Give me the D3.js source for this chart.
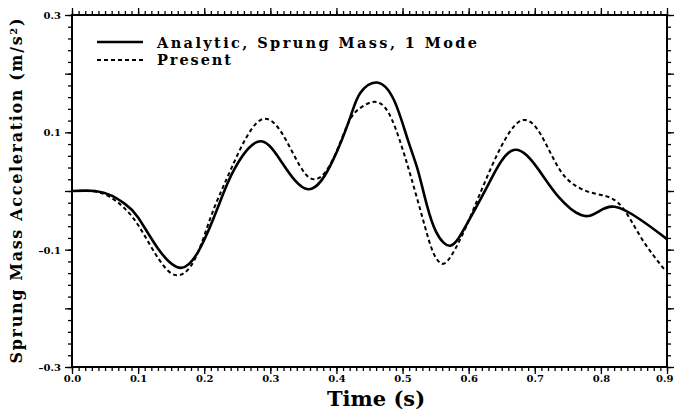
<!DOCTYPE html>
<html lang="en">
<head>
  <meta charset="utf-8">
  <script src="https://d3js.org/d3.v7.min.js"></script>
  <style>
    body { margin: 0; background: #fff; }
  </style>
</head>
<body>
  <div id="my_dataviz"></div>
  <script>

    // values
    const timeAnalytic = [0.00, 0.035, 0.06, 0.08, 0.10, 0.13, 0.165, 0.195, 0.221, 0.245, 0.281, 0.315, 0.357,
      0.395, 0.421, 0.436, 0.461, 0.487, 0.508, 0.523, 0.537, 0.550, 0.562, 0.573, 0.585, 0.601, 0.631, 0.668, 0.706,
      0.736, 0.770, 0.795, 0.821, 0.860, 0.900];
    const accAnalytic = [0, 0, -0.008, -0.022, -0.045, -0.098, -0.131, -0.095, -0.027, 0.036, 0.084, 0.053, 0.003,
      0.053, 0.126, 0.167, 0.185, 0.155, 0.087, 0.036, -0.025, -0.068, -0.088, -0.093, -0.080, -0.049, 0.014, 0.070, 0.036,
      -0.010, -0.041, -0.036, -0.027, -0.049, -0.082];

    const timePresent = [0.00, 0.035, 0.06, 0.08, 0.10, 0.125, 0.155, 0.185, 0.21, 0.24, 0.285, 0.326, 0.36, 0.392, 0.418,
      0.438, 0.458, 0.479, 0.499, 0.514, 0.530, 0.543, 0.553, 0.562, 0.575, 0.596, 0.626, 0.676, 0.716, 0.746, 0.786,
      0.826, 0.86, 0.897];
    const accPresent = [0, -0.001, -0.012, -0.030, -0.058, -0.105, -0.143, -0.118, -0.044, 0.036, 0.121, 0.082, 0.022, 0.048, 0.116,
      0.143, 0.152, 0.133, 0.075, 0.019, -0.045, -0.095, -0.118, -0.124, -0.108, -0.061, 0.019, 0.118, 0.082, 0.024, -0.003,
      -0.020, -0.078, -0.135];

    const xTickLabels = [0.0, 0.1, 0.2, 0.3, 0.4, 0.5, 0.6, 0.7, 0.8, 0.9];
    const yTickLabels = [0.3, 0.1, -0.1, -0.3];
    const seriesNames = ["Analytic, Sprung Mass, 1 Mode", "Present"];

    // set the dimensions and margins of the graph
    const margin = {top: 15, right: 7, bottom: 46, left: 72},
        width = 674 - margin.left - margin.right,
        height = 413 - margin.top - margin.bottom;

    const svg = d3.select("#my_dataviz")
      .append("svg")
        .attr("width", 674)
        .attr("height", 413)
      .append("g")
        .attr("transform", `translate(${margin.left},${margin.top})`);

    const x = d3.scaleLinear().domain([0, 0.9]).range([0, width]);
    const y = d3.scaleLinear().domain([-0.3, 0.3]).range([height, 0]);

    const xMinor = d3.range(0, 91).map(i => i / 100);
    const xMajor = d3.range(0, 10).map(i => i / 10);
    const yMinor = d3.range(-15, 16).map(i => i / 50);
    const yMajor = d3.range(-3, 4).map(i => i / 10);

    const fmt = d => d < 0 ? "\u2013" + Math.abs(d).toFixed(1) : d.toFixed(1);
    const tickFont = "DejaVu Serif";

    // minor ticks on all four sides
    svg.append("g").attr("transform", `translate(0,${height})`)
      .call(d3.axisBottom(x).tickValues(xMinor).tickSize(4).tickFormat(""));
    svg.append("g")
      .call(d3.axisTop(x).tickValues(xMinor).tickSize(4).tickFormat(""));
    svg.append("g")
      .call(d3.axisLeft(y).tickValues(yMinor).tickSize(4).tickFormat(""));
    svg.append("g").attr("transform", `translate(${width},0)`)
      .call(d3.axisRight(y).tickValues(yMinor).tickSize(4).tickFormat(""));

    // major ticks
    svg.append("g").attr("class", "xaxis").attr("transform", `translate(0,${height})`)
      .call(d3.axisBottom(x).tickValues(xMajor).tickSize(7).tickPadding(1)
        .tickFormat(d => xTickLabels.includes(d) ? fmt(d) : ""));
    svg.append("g")
      .call(d3.axisTop(x).tickValues(xMajor).tickSize(7).tickFormat(""));
    svg.append("g").attr("class", "yaxis")
      .call(d3.axisLeft(y).tickValues(yMajor).tickSize(7).tickPadding(4)
        .tickFormat(d => yTickLabels.some(v => Math.abs(v - d) < 1e-9) ? fmt(d) : ""));
    svg.append("g").attr("transform", `translate(${width},0)`)
      .call(d3.axisRight(y).tickValues(yMajor).tickSize(7).tickFormat(""));

    svg.selectAll(".domain").remove();
    svg.selectAll(".tick line").attr("stroke", "#000").attr("stroke-width", 1.3);
    svg.selectAll(".tick text")
      .style("font-family", tickFont)
      .style("font-weight", "bold")
      .style("font-size", "10px")
      .attr("fill", "#000");
    svg.selectAll(".yaxis .tick text").attr("dy", "0.35em");
    // keep the last label inside the page
    svg.selectAll(".xaxis .tick text").filter(d => d === 0.9)
      .attr("text-anchor", "end").attr("x", 6);

    // frame
    svg.append("rect")
      .attr("x", 0).attr("y", 0)
      .attr("width", width).attr("height", height)
      .attr("fill", "none")
      .attr("stroke", "#000")
      .attr("stroke-width", 2);

    const line = d3.line()
      .x(d => x(d[0]))
      .y(d => y(d[1]))
      .curve(d3.curveNatural);

    svg.append("path")
      .datum(timePresent.map((t, i) => [t, accPresent[i]]))
      .attr("fill", "none")
      .attr("stroke", "#000")
      .attr("stroke-width", 2)
      .attr("stroke-dasharray", "4,3")
      .attr("d", line);

    svg.append("path")
      .datum(timeAnalytic.map((t, i) => [t, accAnalytic[i]]))
      .attr("fill", "none")
      .attr("stroke", "#000")
      .attr("stroke-width", 2.6)
      .attr("d", line);

    // legend
    const legend = svg.append("g").attr("transform", "translate(25,27)");
    legend.append("line")
      .attr("x1", 0).attr("x2", 46).attr("y1", 0).attr("y2", 0)
      .attr("stroke", "#000").attr("stroke-width", 2.6);
    legend.append("line")
      .attr("x1", 0).attr("x2", 46).attr("y1", 18).attr("y2", 18)
      .attr("stroke", "#000").attr("stroke-width", 2).attr("stroke-dasharray", "4,3");
    legend.append("text")
      .attr("x", 60).attr("y", 6)
      .attr("textLength", 320)
      .style("font-family", tickFont).style("font-weight", "bold").style("font-size", "14.5px")
      .text(seriesNames[0]);
    legend.append("text")
      .attr("x", 60).attr("y", 23)
      .attr("textLength", 74)
      .style("font-family", tickFont).style("font-weight", "bold").style("font-size", "14.5px")
      .text(seriesNames[1]);

    // X axis label
    svg.append("text")
      .attr("x", 376 - margin.left)
      .attr("y", 406 - margin.top)
      .attr("text-anchor", "middle")
      .style("font-family", tickFont)
      .style("font-weight", "bold")
      .style("font-size", "21px")
      .text("Time (s)");

    // Y axis label
    const ylab = svg.append("text")
      .attr("transform", "rotate(-90)")
      .attr("x", -(191 - margin.top))
      .attr("y", 22 - margin.left)
      .attr("text-anchor", "middle")
      .attr("textLength", 345)
      .style("font-family", tickFont)
      .style("font-weight", "bold")
      .style("font-size", "16px");
    ylab.append("tspan").text("Sprung Mass Acceleration (m/s");
    ylab.append("tspan").attr("baseline-shift", "super").style("font-size", "10px").text("2");
    ylab.append("tspan").text(")");
  </script>
</body>
</html>
